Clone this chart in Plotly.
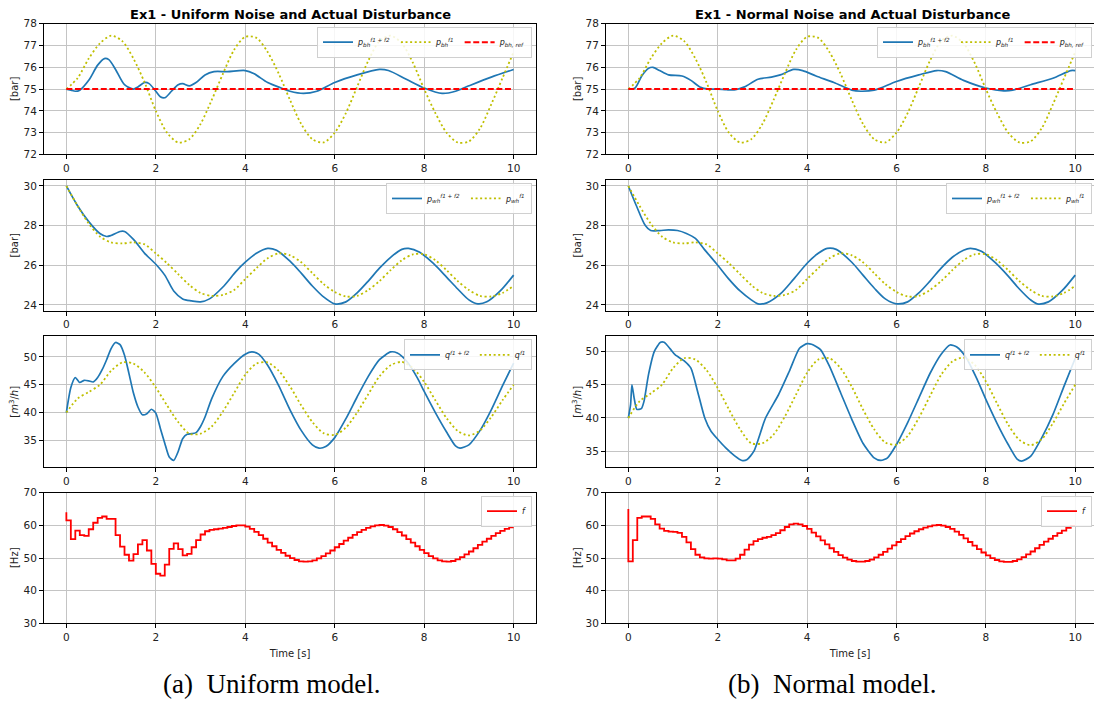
import plotly.graph_objects as go

# ---------------------------------------------------------------- data
# common grid (s) for the f1-only reference responses
t_f1 = [0.0, 0.25, 0.5, 0.75, 1.0, 1.25, 1.5, 1.75, 2.0, 2.25, 2.5, 2.75, 3.0, 3.25,
        3.5, 3.75, 4.0, 4.25, 4.5, 4.75, 5.0, 5.25, 5.5, 5.75, 6.0, 6.25, 6.5, 6.75,
        7.0, 7.25, 7.5, 7.75, 8.0, 8.25, 8.5, 8.75, 9.0, 9.25, 9.5, 9.75, 10.0]

pbh_f1 = [75.0, 75.5, 76.4, 77.1, 77.45, 77.2, 76.4, 75.3, 74.0, 73.0, 72.55, 72.7,
          73.4, 74.5, 75.7, 76.8, 77.4, 77.35, 76.7, 75.7, 74.5, 73.4, 72.7, 72.55,
          73.0, 73.9, 75.1, 76.3, 77.2, 77.45, 77.1, 76.2, 75.0, 73.9, 73.0, 72.55,
          72.6, 73.2, 74.3, 75.5, 76.7]
pwh_f1 = [30.0, 29.0, 28.1, 27.45, 27.15, 27.1, 27.15, 27.05, 26.6, 26.1, 25.55, 25.0,
          24.6, 24.45, 24.5, 24.75, 25.3, 25.85, 26.35, 26.6, 26.5, 26.15, 25.6, 25.05,
          24.65, 24.42, 24.45, 24.75, 25.2, 25.75, 26.25, 26.55, 26.55, 26.25, 25.75,
          25.2, 24.75, 24.45, 24.42, 24.6, 24.95]
q_f1 = [40.0, 42.5, 43.7, 45.0, 47.5, 49.0, 48.8, 47.2, 44.5, 41.3, 38.3, 36.2, 36.2,
        37.5, 40.2, 43.5, 46.8, 48.8, 49.0, 47.5, 44.7, 41.3, 38.3, 36.3, 36.0, 37.3,
        40.0, 43.3, 46.5, 48.5, 49.1, 48.0, 45.5, 42.2, 39.0, 36.7, 35.9, 36.8, 39.2,
        42.2, 45.0]

pbh_ref = 75.0

# bottom-hole pressure, f1 + f2
t_pbh_uni = [0, 0.1, 0.2, 0.3, 0.5, 0.7, 0.85, 0.95, 1.1, 1.3, 1.5, 1.6, 1.75, 1.85,
             2.0, 2.1, 2.2, 2.35, 2.5, 2.6, 2.75, 2.9, 3.1, 3.3, 3.6, 4.0, 4.2, 4.5,
             4.8, 5.0, 5.3, 5.6, 6.0, 6.5, 7.0, 7.2, 7.6, 8.0, 8.4, 8.7, 9.0, 9.5, 10.0]
pbh_uni = [75.0, 74.95, 74.9, 74.95, 75.4, 76.1, 76.4, 76.35, 75.9, 75.2, 75.0, 75.1,
           75.3, 75.25, 74.9, 74.65, 74.6, 74.9, 75.2, 75.25, 75.15, 75.3, 75.65, 75.8,
           75.8, 75.85, 75.7, 75.3, 75.05, 74.9, 74.8, 74.9, 75.3, 75.65, 75.9, 75.85,
           75.45, 75.05, 74.8, 74.9, 75.15, 75.55, 75.9]
t_pbh_nor = [0, 0.15, 0.3, 0.45, 0.55, 0.7, 0.9, 1.2, 1.4, 1.6, 1.8, 2.0, 2.2, 2.4,
             2.6, 2.9, 3.2, 3.4, 3.7, 3.9, 4.2, 4.6, 5.0, 5.2, 5.5, 6.0, 6.5, 6.9, 7.1,
             7.5, 8.0, 8.4, 8.6, 9.0, 9.5, 9.9, 10.0]
pbh_nor = [75.0, 75.05, 75.6, 75.95, 76.0, 75.85, 75.65, 75.6, 75.4, 75.1, 75.0, 75.0,
           74.97, 74.97, 75.1, 75.45, 75.55, 75.65, 75.9, 75.85, 75.6, 75.3, 74.95,
           74.9, 74.95, 75.35, 75.65, 75.85, 75.8, 75.4, 75.05, 74.92, 74.95, 75.2,
           75.5, 75.85, 75.85]

# wellhead pressure, f1 + f2
t_pwh_uni = [0, 0.25, 0.5, 0.75, 0.9, 1.0, 1.2, 1.3, 1.5, 1.75, 2.0, 2.2, 2.4, 2.6,
             2.8, 3.0, 3.2, 3.5, 3.8, 4.0, 4.25, 4.5, 4.7, 5.0, 5.25, 5.5, 5.75, 6.0,
             6.25, 6.5, 6.75, 7.0, 7.25, 7.5, 7.65, 7.9, 8.2, 8.5, 8.75, 9.0, 9.2, 9.4,
             9.7, 10.0]
pwh_uni = [30.0, 29.0, 28.2, 27.6, 27.45, 27.5, 27.7, 27.7, 27.3, 26.6, 26.05, 25.5,
           24.7, 24.3, 24.2, 24.15, 24.3, 24.9, 25.7, 26.15, 26.6, 26.85, 26.75, 26.2,
           25.6, 24.95, 24.4, 24.05, 24.15, 24.6, 25.2, 25.85, 26.4, 26.8, 26.85, 26.65,
           26.1, 25.4, 24.8, 24.25, 24.05, 24.15, 24.7, 25.5]
t_pwh_nor = [0, 0.18, 0.38, 0.5, 0.7, 0.9, 1.1, 1.3, 1.5, 1.7, 2.0, 2.25, 2.5, 2.75,
             2.9, 3.1, 3.4, 3.7, 4.0, 4.25, 4.45, 4.65, 5.0, 5.25, 5.5, 5.75, 6.0,
             6.25, 6.5, 6.75, 7.0, 7.25, 7.5, 7.65, 7.9, 8.2, 8.5, 8.75, 9.0, 9.15, 9.4,
             9.7, 10.0]
pwh_nor = [30.0, 29.0, 28.0, 27.75, 27.75, 27.78, 27.75, 27.6, 27.35, 26.8, 26.0, 25.3,
           24.7, 24.25, 24.05, 24.1, 24.55, 25.3, 26.1, 26.6, 26.85, 26.8, 26.15, 25.5,
           24.85, 24.3, 24.05, 24.15, 24.6, 25.2, 25.85, 26.4, 26.75, 26.85, 26.7,
           26.15, 25.45, 24.8, 24.25, 24.05, 24.15, 24.7, 25.5]

# production flow, f1 + f2
t_q_uni = [0.0, 0.1, 0.2, 0.3, 0.4, 0.5, 0.6, 0.7, 0.8, 0.9, 1.0, 1.1, 1.2, 1.3, 1.4,
           1.5, 1.6, 1.7, 1.8, 1.9, 2.0, 2.1, 2.2, 2.3, 2.4, 2.5, 2.6, 2.7, 2.8, 2.9,
           3.0, 3.1, 3.25, 3.5, 3.75, 4.0, 4.15, 4.3, 4.5, 4.75, 5.0, 5.25, 5.5, 5.65,
           5.8, 6.0, 6.25, 6.5, 6.75, 7.0, 7.25, 7.4, 7.6, 7.85, 8.0, 8.25, 8.5, 8.7,
           8.8, 9.0, 9.25, 9.5, 9.75, 10.0]
q_uni = [40.0, 44.5, 46.3, 45.4, 45.8, 45.7, 45.5, 46.3, 47.7, 49.5, 51.5, 52.6, 52.2,
         50.3, 47.0, 43.5, 41.0, 39.6, 39.8, 40.6, 39.9, 37.2, 34.5, 32.0, 31.4, 33.0,
         35.3, 36.1, 36.2, 36.4, 37.5, 39.2, 42.5, 46.5, 48.8, 50.5, 50.9, 50.5, 48.5,
         44.8, 40.5, 36.8, 34.2, 33.6, 33.9, 35.5, 38.9, 42.8, 46.5, 49.5, 50.9, 50.7,
         49.3, 46.2, 43.8, 40.0, 36.5, 34.0, 33.6, 34.2, 36.8, 40.5, 44.8, 48.9]
t_q_nor = [0, 0.05, 0.08, 0.13, 0.19, 0.29, 0.35, 0.45, 0.58, 0.72, 0.8, 0.95, 1.05,
           1.25, 1.4, 1.55, 1.71, 1.85, 2.0, 2.18, 2.38, 2.54, 2.65, 2.81, 3.07, 3.36,
           3.6, 3.83, 4.0, 4.1, 4.3, 4.5, 4.75, 5.0, 5.25, 5.5, 5.65, 5.8, 6.0, 6.25,
           6.5, 6.75, 7.0, 7.2, 7.35, 7.55, 7.8, 8.0, 8.25, 8.5, 8.7, 8.8, 9.0, 9.25,
           9.5, 9.75, 10.0]
q_nor = [40.0, 42.0, 45.0, 43.0, 41.3, 41.4, 42.5, 46.5, 50.0, 51.4, 51.4, 50.3, 49.5,
         48.6, 47.5, 44.0, 40.0, 38.0, 36.8, 35.5, 34.3, 33.6, 33.7, 35.0, 40.0, 43.5,
         47.0, 50.5, 51.2, 51.1, 50.3, 47.8, 43.8, 39.8, 36.2, 34.0, 33.6, 34.0, 36.0,
         39.3, 43.0, 46.7, 49.6, 51.0, 50.7, 49.2, 45.9, 42.8, 39.2, 36.0, 33.8, 33.5,
         34.2, 37.0, 40.5, 44.8, 49.0]

# ESP frequency, sampled every 0.1 s (value k holds on ((k-1)*0.1, k*0.1])
t_f = [round(0.1 * k, 1) for k in range(101)]
f_uni = [64.0, 61.5, 55.8, 58.4, 57.0, 56.8, 58.8, 60.8, 62.3, 62.7, 62.0,
         62.0, 57.0, 53.5, 51.0, 49.2, 51.2, 54.2, 55.5, 52.3, 48.2,
         45.2, 44.6, 48.0, 52.8, 54.5, 52.7, 50.8, 51.3, 53.3, 55.5,
         57.2, 58.2, 58.6, 58.8, 59.0, 59.2, 59.5, 59.8, 60.0, 60.0,
         59.6, 58.9, 58.0, 57.0, 55.9, 54.7, 53.6, 52.5, 51.6, 50.7,
         50.0, 49.4, 49.0, 48.9, 49.0, 49.3, 49.9, 50.6, 51.4, 52.3,
         53.3, 54.3, 55.3, 56.2, 57.1, 57.9, 58.6, 59.2, 59.7, 60.0,
         60.1, 59.9, 59.5, 58.8, 57.9, 56.9, 55.8, 54.7, 53.6, 52.5,
         51.5, 50.6, 49.9, 49.3, 49.0, 48.9, 49.1, 49.6, 50.3, 51.1,
         52.0, 53.0, 54.0, 55.0, 55.9, 56.8, 57.6, 58.3, 58.9, 59.4, 59.8]
f_nor = [65.0, 49.0, 55.5, 62.3, 62.7, 62.7, 62.0, 60.3, 59.0, 58.3, 58.1,
         58.0, 57.7, 56.5, 54.8, 52.7, 51.0, 50.2, 49.9, 49.8, 49.9,
         49.8, 49.6, 49.3, 49.3, 49.8, 51.0, 52.6, 54.1, 55.2, 55.8,
         56.2, 56.5, 57.0, 57.6, 58.5, 59.5, 60.3, 60.5, 60.3, 59.8,
         58.9, 57.8, 56.6, 55.4, 54.2, 53.0, 51.9, 50.9, 50.1, 49.5,
         49.1, 48.9, 48.9, 49.1, 49.5, 50.2, 51.0, 51.9, 52.9, 53.9,
         54.9, 55.8, 56.7, 57.5, 58.2, 58.8, 59.3, 59.7, 60.0, 60.1,
         59.9, 59.5, 58.9, 58.1, 57.1, 56.0, 54.9, 53.8, 52.7, 51.7,
         50.8, 50.0, 49.4, 49.0, 48.8, 48.8, 49.1, 49.6, 50.3, 51.1,
         52.0, 53.0, 54.0, 55.0, 55.9, 56.8, 57.6, 58.4, 59.2, 59.8, 59.8]

titles = ["Ex1 - Uniform Noise and Actual Disturbance",
          "Ex1 - Normal Noise and Actual Disturbance"]
captions = ["(a)\u2002Uniform model.", "(b)\u2002Normal model."]
y_labels = ["[bar]", "[bar]", "[<i>m</i><sup>3</sup>/<i>h</i>]", "[Hz]"]
y_ticks = [[72, 73, 74, 75, 76, 77, 78], [24, 26, 28, 30], [35, 40, 45, 50],
           [30, 40, 50, 60, 70]]
x_ticks = [0, 2, 4, 6, 8, 10]

# ---------------------------------------------------------------- layout
W, H = 1094, 712
BLUE, OLIVE, RED = "#1f77b4", "#bfbf00", "#ff0000"
FONT = "DejaVu Sans"
DOTTED = "2px,2.6px"
DASHED = "6px,2.6px"

col_px = [(44, 536), (606, 1094)]
row_px = [(18, 151), (177, 310), (336, 469), (495, 628)]
x_ranges = [[-0.5, 10.5], [-0.5, 10.42]]
y_ranges = [[72, 78], [23.7, 30.3], None, [30, 70]]
q_ranges = [[30.2, 53.7], [32.6, 52.3]]


def fx(p):
    return p / W


def fy(p):
    return 1 - p / H


fig = go.Figure()


def legend_name(i):
    return "legend" if i == 0 else f"legend{i + 1}"


def add(i, x, y, name, color, dash="solid", width=1.7, shape="spline", smooth=0.8):
    n = i + 1
    line = dict(color=color, width=width, dash=dash, shape=shape)
    if shape == "spline":
        line["smoothing"] = smooth
    fig.add_trace(go.Scatter(
        x=x, y=y, mode="lines", name=name, line=line,
        xaxis=f"x{n}", yaxis=f"y{n}", legend=legend_name(i), showlegend=True))


lbl_pbh_ff = "<i>p</i><sub><i>bh</i></sub><sup><i>f1 + f2</i></sup>"
lbl_pbh_f = "<i>p</i><sub><i>bh</i></sub><sup><i>f1</i></sup>"
lbl_ref = "<i>p</i><sub><i>bh, ref</i></sub>"
lbl_pwh_ff = "<i>p</i><sub><i>wh</i></sub><sup><i>f1 + f2</i></sup>"
lbl_pwh_f = "<i>p</i><sub><i>wh</i></sub><sup><i>f1</i></sup>"
lbl_q_ff = "<i>q</i><sup><i>f1 + f2</i></sup>"
lbl_q_f = "<i>q</i><sup><i>f1</i></sup>"

series = {
    "pbh": [(t_pbh_uni, pbh_uni), (t_pbh_nor, pbh_nor)],
    "pwh": [(t_pwh_uni, pwh_uni), (t_pwh_nor, pwh_nor)],
    "q": [(t_q_uni, q_uni), (t_q_nor, q_nor)],
    "f": [f_uni, f_nor],
}

for c in range(2):
    # row 1: bottom-hole pressure
    i = 0 * 2 + c
    tx, ty = series["pbh"][c]
    add(i, tx, ty, lbl_pbh_ff, BLUE)
    add(i, t_f1, pbh_f1, lbl_pbh_f, OLIVE, dash=DOTTED, width=1.8)
    add(i, [0, 10], [pbh_ref, pbh_ref], lbl_ref, RED, dash=DASHED, width=2,
        shape="linear")
    # row 2: wellhead pressure
    i = 1 * 2 + c
    tx, ty = series["pwh"][c]
    add(i, tx, ty, lbl_pwh_ff, BLUE)
    add(i, t_f1, pwh_f1, lbl_pwh_f, OLIVE, dash=DOTTED, width=1.8)
    # row 3: flow
    i = 2 * 2 + c
    tx, ty = series["q"][c]
    add(i, tx, ty, lbl_q_ff, BLUE, smooth=0.6)
    add(i, t_f1, q_f1, lbl_q_f, OLIVE, dash=DOTTED, width=1.8)
    # row 4: frequency
    i = 3 * 2 + c
    add(i, t_f, series["f"][c], "<i>f</i>", RED, width=1.8, shape="vh")

layout = dict(
    width=W, height=H, margin=dict(l=0, r=0, t=0, b=0),
    paper_bgcolor="white", plot_bgcolor="white",
    font=dict(family=FONT, size=10, color="#222"),
    annotations=[],
)

axis_common = dict(
    showgrid=True, gridcolor="#c4c4c4", gridwidth=1,
    showline=True, mirror=True, linecolor="black", linewidth=1,
    ticks="outside", ticklen=4, tickcolor="black", tickwidth=1,
    zeroline=False, tickfont=dict(family=FONT, size=10.5, color="#222"),
)

for r in range(4):
    for c in range(2):
        i = r * 2 + c
        n = i + 1
        xs = "" if n == 1 else str(n)
        x0, x1 = col_px[c]
        y0, y1 = row_px[r]
        yr = y_ranges[r] if y_ranges[r] is not None else q_ranges[c]
        xa = dict(axis_common, domain=[fx(x0), fx(x1)], range=x_ranges[c],
                  tickvals=x_ticks, anchor=f"y{n}")
        if r == 3:
            xa["title"] = dict(text="Time [s]",
                               font=dict(family=FONT, size=10, color="#222"),
                               standoff=7)
        ya = dict(axis_common, domain=[fy(y1), fy(y0)], range=yr,
                  tickvals=y_ticks[r], anchor=f"x{n}")
        if c == 1:
            # the right-hand frame runs past the page edge
            ya["mirror"] = False
        layout[f"xaxis{xs}"] = xa
        layout[f"yaxis{xs}"] = ya

        # per-panel legend in the upper-right corner
        layout[legend_name(i)] = dict(
            x=fx(x1 - (4 if c == 0 else 2)), y=fy(y0 + 3),
            xanchor="right", yanchor="top",
            orientation="h" if r < 3 else "v",
            bgcolor="rgba(255,255,255,0.85)", bordercolor="#d0d0d0", borderwidth=1,
            font=dict(family=FONT, size=8, color="#222"),
            itemwidth=30, tracegroupgap=0,
        )

        # y-axis label
        layout["annotations"].append(dict(
            text=y_labels[r], x=fx(14 if c == 0 else 577), y=fy((y0 + y1) / 2),
            xref="paper", yref="paper", showarrow=False, textangle=-90,
            font=dict(family=FONT, size=10, color="#222"),
            xanchor="center", yanchor="middle"))

for c in range(2):
    x0, x1 = col_px[c]
    centre = (x0 + 536) / 2 if c == 0 else (x0 + 1098) / 2
    layout["annotations"].append(dict(
        text=f"<b>{titles[c]}</b>", x=fx(centre), y=fy(9), xref="paper", yref="paper",
        showarrow=False, xanchor="center", yanchor="middle",
        font=dict(family=FONT, size=13, color="black")))
    layout["annotations"].append(dict(
        text=captions[c], x=fx(271 if c == 0 else 832), y=fy(690),
        xref="paper", yref="paper", showarrow=False, xanchor="center", yanchor="middle",
        font=dict(family="Liberation Serif", size=27, color="black")))

fig.update_layout(**layout)
fig.write_html("out.html")
